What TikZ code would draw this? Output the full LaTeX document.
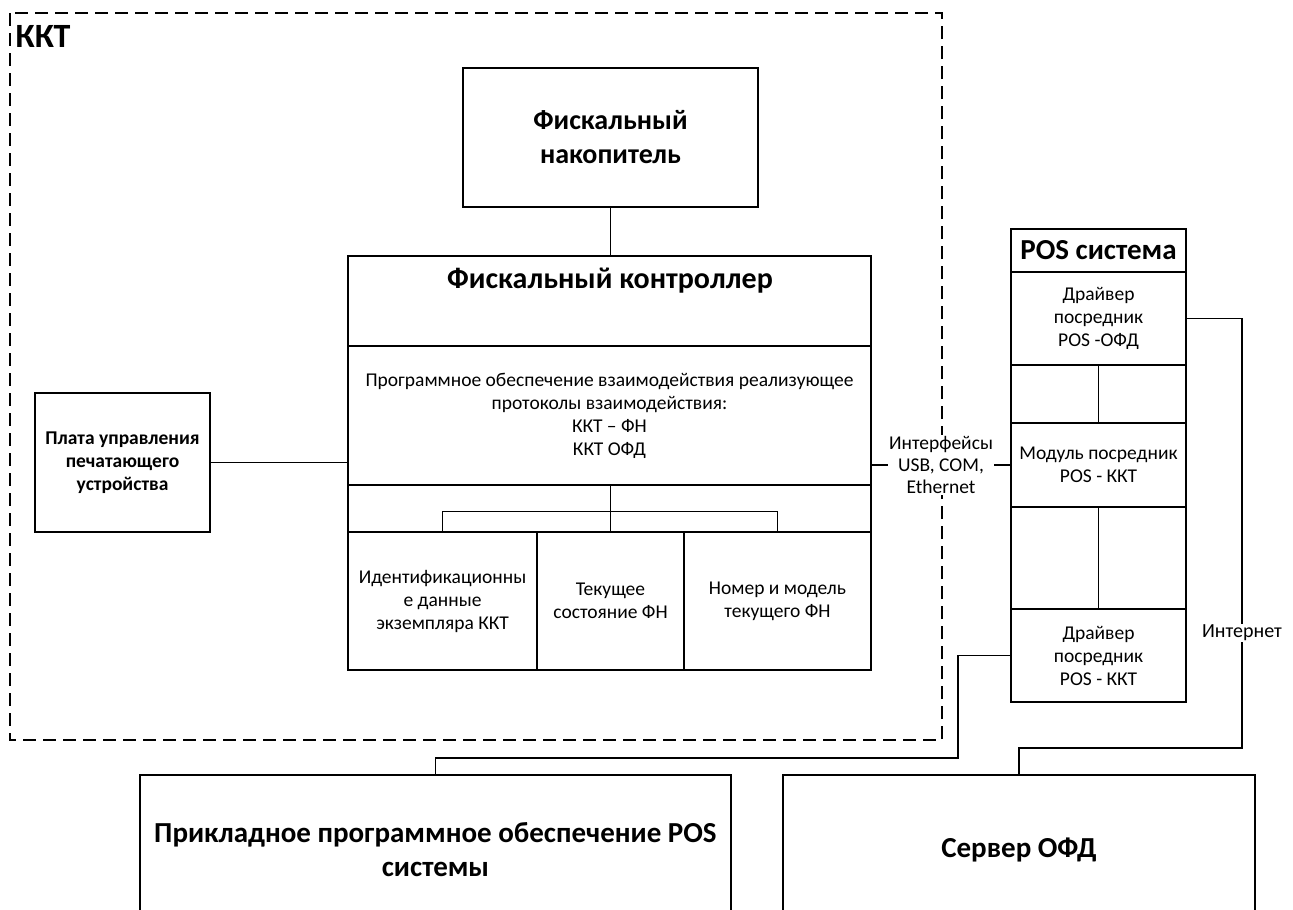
\documentclass[tikz,border=0pt]{standalone}
\usepackage{fontspec}
\setmainfont{Carlito}
\begin{document}
\begin{tikzpicture}[x=1pt,y=-1pt,
  line width=1.4pt,
  box/.style={draw, rectangle, inner sep=0pt, align=center, font=\fontsize{19.5}{23}\selectfont},
  conn/.style={draw, line width=1.4pt},
  lbl/.style={fill=white, inner sep=1pt, align=center, font=\fontsize{19.5}{22}\selectfont}]
\clip (0,0) rectangle (1293,910);
\fill[white] (0,0) rectangle (1293,910);
% KKT dashed frame
\draw[line width=1.6pt, dash pattern=on 13pt off 7pt] (10,13) rectangle (942,740);
\node[anchor=north west, inner sep=0pt, font=\fontsize{34}{38}\selectfont\bfseries] (kkt) at (15,25) {ККТ};
% FN
\node[box, minimum width=295, minimum height=139, font=\fontsize{28}{34}\selectfont\bfseries] (fn) at (610.5,137.5) {Фискальный\\накопитель};
% Controller
\node[box, minimum width=523, minimum height=90] (ctrl) at (609.5,301) {};
\node[inner sep=0pt, font=\fontsize{30}{32}\selectfont\bfseries] (ctrlt) at (610,281) {Фискальный контроллер};
\node[box, minimum width=523, minimum height=139] (sw) at (609.5,415.5) {Программное обеспечение взаимодействия реализующее\\протоколы взаимодействия:\\ККТ – ФН\\ККТ ОФД};
\node[box, minimum width=523, minimum height=47] (tree) at (609.5,508.5) {};
\node[box, minimum width=189, minimum height=138] (sub1) at (442.5,601) {Идентификационны\\е данные\\экземпляра ККТ};
\node[box, minimum width=147, minimum height=138] (sub2) at (610.5,601) {Текущее\\состояние ФН};
\node[box, minimum width=187, minimum height=138] (sub3) at (777.5,601) {Номер и модель\\текущего ФН};
% Plata
\node[box, minimum width=175, minimum height=139, font=\fontsize{19.5}{23}\selectfont\bfseries] (plata) at (122.5,462.5) {Плата управления\\печатающего\\устройства};
% POS
\node[box, minimum width=175, minimum height=43, font=\fontsize{29}{32}\selectfont\bfseries] (pos) at (1098.5,250.5) {POS система};
\node[box, minimum width=175, minimum height=93] (ofd) at (1098.5,318.5) {Драйвер\\посредник\\POS -ОФД};
\node[box, minimum width=175, minimum height=58] (gap1) at (1098.5,394) {};
\node[box, minimum width=175, minimum height=84] (module) at (1098.5,465) {Модуль посредник\\POS - ККТ};
\node[box, minimum width=175, minimum height=102] (gap2) at (1098.5,558) {};
\node[box, minimum width=175, minimum height=93] (drv) at (1098.5,655.5) {Драйвер\\посредник\\POS - ККТ};
% Bottom boxes
\node[box, minimum width=591, minimum height=150, font=\fontsize{29}{34}\selectfont\bfseries] (app) at (435.5,850) {Прикладное программное обеспечение POS\\системы};
\node[box, minimum width=472, minimum height=150, font=\fontsize{29}{34}\selectfont\bfseries] (serv) at (1019,850) {Сервер ОФД};
% connectors
\draw[conn] (fn.south) -- (fn.south |- ctrl.north);
\draw[conn] (plata.east) -- (plata.east -| sw.west);
\draw[conn] (sub2.north |- tree.north) -- (sub2.north);
\draw[conn] (sub1.north) -- ++(0,-20) -| (sub3.north);
\draw[conn] (ofd.south) -- (module.north);
\draw[conn] (module.south) -- (drv.north);
\draw[conn] (module.west -| sw.east) -- (module.west) node[lbl, midway] (ifc) {Интерфейсы\\USB, COM,\\Ethernet};
\coordinate (c1) at (1242,748);
\draw[conn] (ofd.east) -| (c1) -| (serv.north);
\node[lbl, font=\fontsize{20}{22}\selectfont] (inet) at (1242,633) {Интернет};
\coordinate (c2) at (958,758);
\draw[conn] (drv.west) -| (c2) -| (app.north);
\end{tikzpicture}
\end{document}
